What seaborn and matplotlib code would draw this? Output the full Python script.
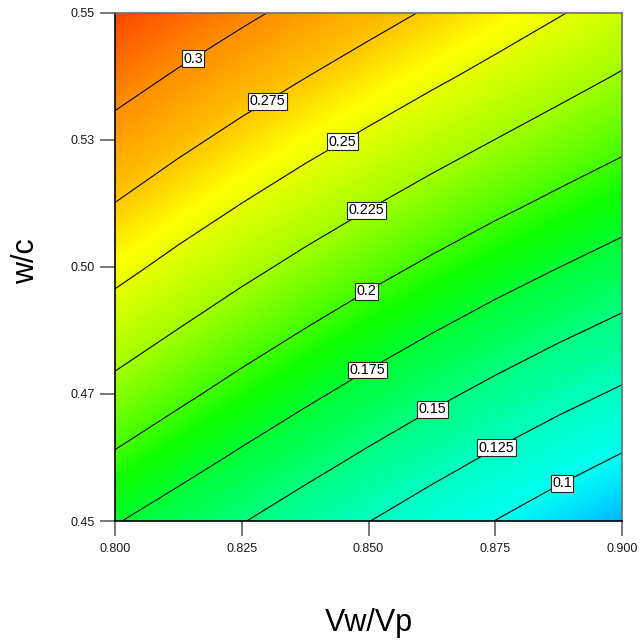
import numpy as np
import matplotlib
matplotlib.use("Agg")
import matplotlib.pyplot as plt
from matplotlib.colors import LinearSegmentedColormap
import seaborn as sns

# Factor levels of the response-surface grid
vw_vp = [0.8000, 0.8125, 0.8250, 0.8375, 0.8500, 0.8625, 0.8750, 0.8875, 0.9000]
w_c = [0.4500, 0.4625, 0.4750, 0.4875, 0.5000, 0.5125, 0.5250, 0.5375, 0.5500]

# Response values, one list per w/c level (bottom to top), left to right in Vw/Vp
resp_4500 = [0.1764, 0.1637, 0.1510, 0.1382, 0.1254, 0.1126, 0.0997, 0.0868, 0.0739]
resp_4625 = [0.1975, 0.1845, 0.1716, 0.1590, 0.1465, 0.1342, 0.1220, 0.1101, 0.0983]
resp_4750 = [0.2180, 0.2048, 0.1919, 0.1794, 0.1672, 0.1553, 0.1438, 0.1326, 0.1218]
resp_4875 = [0.2376, 0.2245, 0.2117, 0.1994, 0.1875, 0.1760, 0.1650, 0.1543, 0.1441]
resp_5000 = [0.2566, 0.2436, 0.2311, 0.2190, 0.2074, 0.1962, 0.1855, 0.1753, 0.1655]
resp_5125 = [0.2748, 0.2622, 0.2500, 0.2383, 0.2269, 0.2160, 0.2055, 0.1955, 0.1858]
resp_5250 = [0.2924, 0.2803, 0.2685, 0.2571, 0.2461, 0.2353, 0.2249, 0.2149, 0.2052]
resp_5375 = [0.3091, 0.2978, 0.2866, 0.2756, 0.2648, 0.2542, 0.2438, 0.2335, 0.2234]
resp_5500 = [0.3252, 0.3147, 0.3043, 0.2937, 0.2832, 0.2726, 0.2620, 0.2514, 0.2407]

contour_levels = [0.1, 0.125, 0.15, 0.175, 0.2, 0.225, 0.25, 0.275, 0.3]

x_ticks = [0.800, 0.825, 0.850, 0.875, 0.900]
x_tick_labels = ["0.800", "0.825", "0.850", "0.875", "0.900"]
y_ticks = [0.450, 0.475, 0.500, 0.525, 0.550]
y_tick_labels = ["0.45", "0.47", "0.50", "0.53", "0.55"]

sns.set_theme(style="ticks")
plt.rcParams["font.family"] = ["Liberation Sans", "DejaVu Sans"]

# Rainbow colour scale: blue (low) -> cyan -> green -> yellow -> red (high)
vmin, vmax = 0.07, 0.33
stops = [(0.070, "#00a8ff"), (0.085, "#00d8ff"), (0.100, "#00fff0"),
         (0.125, "#00ffc0"), (0.150, "#00ff80"), (0.175, "#00ff30"),
         (0.190, "#10ff00"), (0.200, "#40ff00"), (0.225, "#a0ff00"),
         (0.250, "#e8ff00"), (0.258, "#ffff00"), (0.275, "#ffc800"),
         (0.300, "#ff9000"), (0.330, "#ff3800")]
cmap = LinearSegmentedColormap.from_list(
    "surface", [((v - vmin) / (vmax - vmin), c) for v, c in stops])

Z = np.array([resp_4500, resp_4625, resp_4750, resp_4875, resp_5000,
              resp_5125, resp_5250, resp_5375, resp_5500])
X, Y = np.meshgrid(vw_vp, w_c)

fig = plt.figure(figsize=(6.41, 6.41), dpi=100)
ax = fig.add_axes([115 / 641, 1 - 521 / 641, 507 / 641, 508.5 / 641])

ax.contourf(X, Y, Z, levels=np.linspace(vmin, vmax, 261), cmap=cmap,
            vmin=vmin, vmax=vmax)
cs = ax.contour(X, Y, Z, levels=contour_levels, colors="black", linewidths=0.8)

label_spots = [(0.8148, 0.5419), (0.8298, 0.5330), (0.8449, 0.5246),
               (0.8498, 0.5108), (0.8499, 0.4947), (0.8498, 0.4797),
               (0.8625, 0.4722), (0.8749, 0.4651), (0.8874, 0.4589)]
texts = ax.clabel(cs, fmt=lambda v: f"{v:g}", fontsize=10.3, inline=False,
                  manual=label_spots, colors="black")
for t in texts:
    t.set_rotation(0)
    t.set_bbox(dict(boxstyle="square,pad=0.1", fc="white", ec="#222222", lw=0.8))

ax.set_xlim(0.8, 0.9)
ax.set_ylim(0.45, 0.55)
ax.set_xticks(x_ticks)
ax.set_xticklabels(x_tick_labels)
ax.set_yticks(y_ticks)
ax.set_yticklabels(y_tick_labels)

ax.tick_params(direction="out", length=10.8, width=1.4, color="#777777",
               labelsize=9, labelcolor="#1a1a1a")
ax.tick_params(axis="x", pad=5)
ax.tick_params(axis="y", pad=3.6)

for side in ["left", "bottom"]:
    ax.spines[side].set_color("black")
    ax.spines[side].set_linewidth(1.2)
for side in ["top", "right"]:
    ax.spines[side].set_color("#6e6e6e")
    ax.spines[side].set_linewidth(1.2)

ax.set_xlabel("Vw/Vp", fontsize=22, color="black")
ax.set_ylabel("w/c", fontsize=22, color="black")
ax.xaxis.set_label_coords(0.5, -0.1715)
ax.yaxis.set_label_coords(-0.145, 0.512)

fig.savefig("out.png", dpi=100, facecolor="white")
